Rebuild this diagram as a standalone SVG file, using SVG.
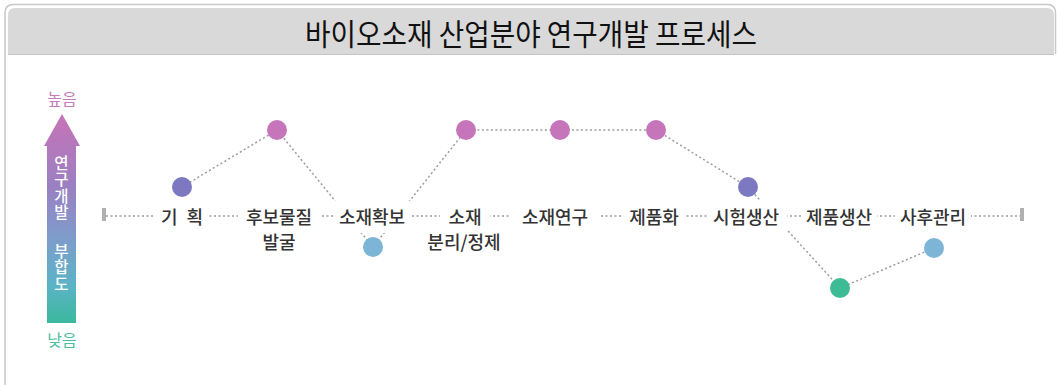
<svg xmlns="http://www.w3.org/2000/svg" width="1057" height="385" viewBox="0 0 1057 385">
<defs>
<linearGradient id="g" x1="0" y1="114" x2="0" y2="323" gradientUnits="userSpaceOnUse">
<stop offset="0" stop-color="#c873b7"/>
<stop offset="0.35" stop-color="#9a80c2"/>
<stop offset="0.6" stop-color="#7d9dcb"/>
<stop offset="0.82" stop-color="#5cb3c6"/>
<stop offset="1" stop-color="#3bb89d"/>
</linearGradient>
<style>
.lbl{font-family:"Noto Sans CJK KR","Noto Sans",sans-serif;font-size:18px;font-weight:500;fill:#333;text-anchor:middle}
.bg{fill:#fff}
.dot{stroke:none}
.pk{fill:#c775ba}
.pu{fill:#7d79c1}
.bl{fill:#7cb5d5}
.gr{fill:#3dbb95}
.con{fill:none;stroke:#9c9c9c;stroke-width:1.5;stroke-dasharray:2 2.5}
.vt{font-family:"Noto Sans CJK KR",sans-serif;font-size:15.5px;fill:#fff;font-weight:500;writing-mode:vertical-rl;letter-spacing:1px}
</style>
</defs>
<rect width="1057" height="385" fill="#fff"/>
<g id="frame">
<path d="M5,385 V13 Q5,4.5 13.5,4.5 H1047 Q1055.5,4.5 1055.5,13 V54" fill="none" stroke="#c8c8c8" stroke-width="1.5"/>
<path d="M8,54 V15 Q8,8 15,8 H1047 Q1054,8 1054,15 V54 Z" fill="#d9d9d9"/>
<line x1="8" y1="54.5" x2="1054" y2="54.5" stroke="#c4c4c4" stroke-width="1"/>
<text x="531" y="45" font-family="Noto Sans CJK KR, sans-serif" font-size="30" fill="#111" text-anchor="middle" textLength="452" lengthAdjust="spacingAndGlyphs">바이오소재 산업분야 연구개발 프로세스</text>
</g>
<g id="axis">
<polygon points="62,114 80,146 76,146 76,323 47,323 47,146 44,146" fill="url(#g)"/>
<text x="62" y="105" font-family="Noto Sans CJK KR, sans-serif" font-size="16" fill="#c77bb8" text-anchor="middle">높음</text>
<text x="62" y="346" font-family="Noto Sans CJK KR, sans-serif" font-size="16" fill="#4bbf9f" text-anchor="middle">낮음</text>
<text class="vt" x="61.5" y="155">연구개발</text>
<text class="vt" x="61.5" y="243">부합도</text>
</g>
<g id="connectors">
<line class="con" x1="106" y1="216" x2="1020" y2="216"/>
<rect x="102" y="208" width="4" height="13" fill="#b0b0b0"/>
<rect x="1020" y="208" width="4" height="13" fill="#b0b0b0"/>
<polyline class="con" points="182,187 277,130 373,247 466,130 560,130 656,130 748,187 840,288 934,248"/>
</g>
<g id="n1"><rect class="bg" x="155" y="201" width="54" height="31"/><text class="lbl" x="182" y="224" word-spacing="5">기 획</text><circle class="dot pu" cx="182" cy="187" r="10"/></g>
<g id="n2"><rect class="bg" x="238" y="201" width="82" height="31"/><text class="lbl" x="279" y="224">후보물질</text><text class="lbl" x="279" y="249">발굴</text><circle class="dot pk" cx="277" cy="130" r="10"/></g>
<g id="n3"><rect class="bg" x="334" y="201" width="76" height="32"/><text class="lbl" x="372" y="224">소재확보</text><circle class="dot bl" cx="373" cy="247" r="10"/></g>
<g id="n4"><rect class="bg" x="440" y="201" width="50" height="31"/><text class="lbl" x="465" y="224">소재</text><text class="lbl" x="464" y="249">분리/정제</text><circle class="dot pk" cx="466" cy="130" r="10"/></g>
<g id="n5"><rect class="bg" x="511" y="201" width="88" height="31"/><text class="lbl" x="555" y="224">소재연구</text><circle class="dot pk" cx="560" cy="130" r="10"/></g>
<g id="n6"><rect class="bg" x="623" y="201" width="62" height="31"/><text class="lbl" x="654" y="224">제품화</text><circle class="dot pk" cx="656" cy="130" r="10"/></g>
<g id="n7"><rect class="bg" x="707" y="201" width="80" height="31"/><text class="lbl" x="746" y="224">시험생산</text><circle class="dot pu" cx="748" cy="187" r="10"/></g>
<g id="n8"><rect class="bg" x="801" y="201" width="76" height="31"/><text class="lbl" x="839" y="224">제품생산</text><circle class="dot gr" cx="840" cy="288" r="10"/></g>
<g id="n9"><rect class="bg" x="895" y="201" width="76" height="31"/><text class="lbl" x="933" y="224">사후관리</text><circle class="dot bl" cx="934" cy="248" r="10"/></g>
</svg>
